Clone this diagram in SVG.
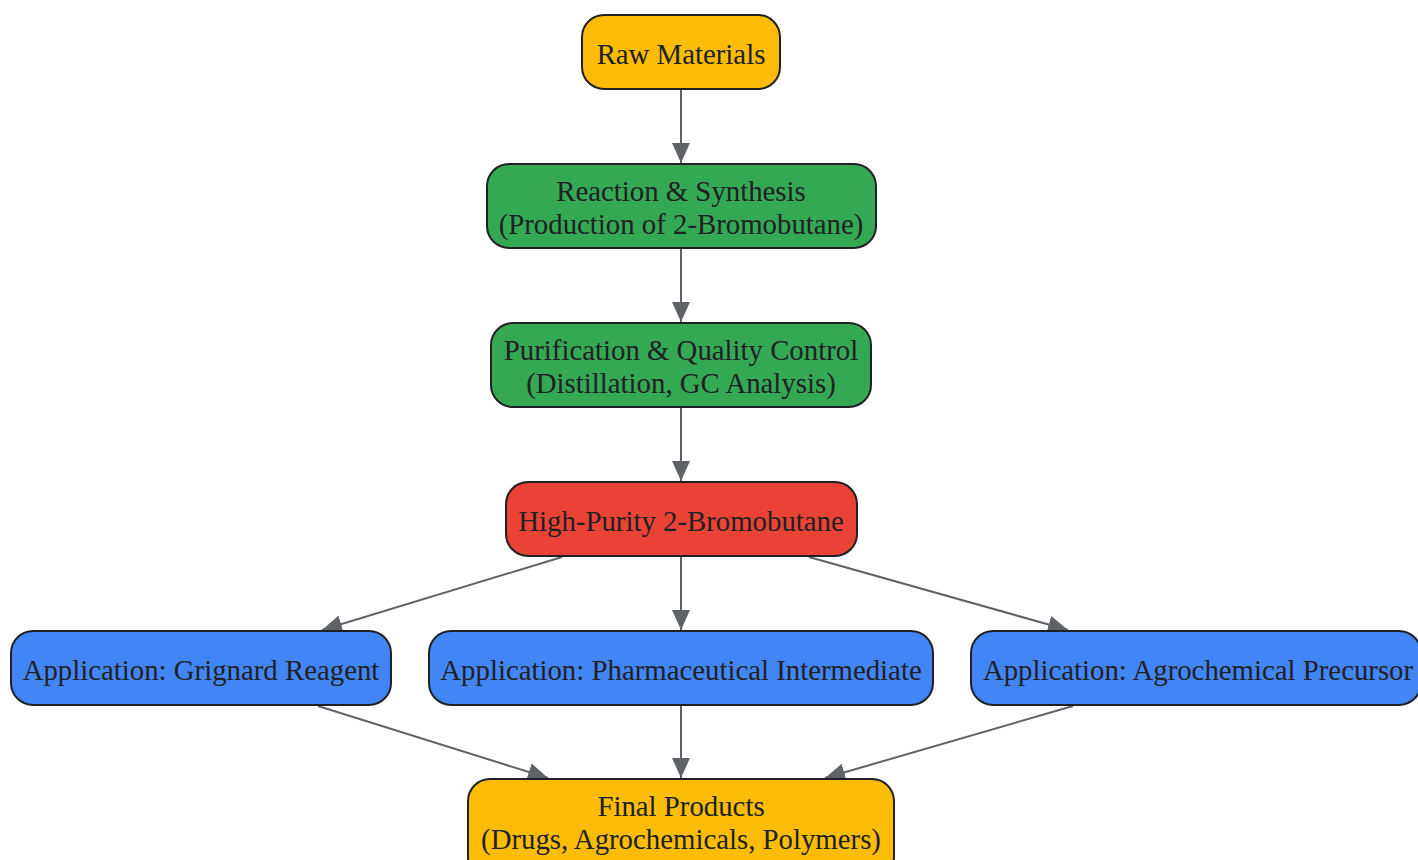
<svg xmlns="http://www.w3.org/2000/svg" width="1418" height="860" viewBox="0 0 1418 860">
<style>
.n rect{stroke:#202124;stroke-width:2}
.n text{font-family:"Liberation Serif",serif;font-size:28.8px;fill:#202124;text-anchor:middle}
.y{fill:#FBBC05}.g{fill:#34A853}.r{fill:#EA4335}.b{fill:#4285F4}
#edges line{stroke:#5f6368;stroke-width:2;marker-end:url(#ah)}
</style>
<defs>
<marker id="ah" markerUnits="userSpaceOnUse" markerWidth="20" markerHeight="18" refX="20" refY="9" orient="auto"><path d="M0,0 L20,9 L0,18 Z" fill="#5f6368"/></marker>
</defs>
<rect width="1418" height="860" fill="#fff"/>
<g id="edges">
<line x1="681" y1="90" x2="681" y2="163"/>
<line x1="681" y1="249" x2="681" y2="322"/>
<line x1="681" y1="408" x2="681" y2="481"/>
<line x1="562" y1="557" x2="322" y2="630"/>
<line x1="681" y1="557" x2="681" y2="630"/>
<line x1="809" y1="557" x2="1068" y2="630"/>
<line x1="318" y1="706" x2="548" y2="778"/>
<line x1="681" y1="706" x2="681" y2="778"/>
<line x1="1073" y1="706" x2="825" y2="778"/>
</g>
<g id="raw" class="n"><rect class="y" x="582" y="15" width="198" height="74" rx="22"/><text x="681" y="64">Raw Materials</text></g>
<g id="reaction" class="n"><rect class="g" x="487" y="164" width="389" height="84" rx="22"/><text x="681" y="201">Reaction &amp; Synthesis</text><text x="681" y="234">(Production of 2-Bromobutane)</text></g>
<g id="purification" class="n"><rect class="g" x="491" y="323" width="380" height="84" rx="22"/><text x="681" y="360">Purification &amp; Quality Control</text><text x="681" y="393">(Distillation, GC Analysis)</text></g>
<g id="highpurity" class="n"><rect class="r" x="506" y="482" width="351" height="74" rx="22"/><text x="681" y="531">High-Purity 2-Bromobutane</text></g>
<g id="grignard" class="n"><rect class="b" x="11" y="631" width="380" height="74" rx="22"/><text x="201" y="680">Application: Grignard Reagent</text></g>
<g id="pharma" class="n"><rect class="b" x="429" y="631" width="504" height="74" rx="22"/><text x="681" y="680">Application: Pharmaceutical Intermediate</text></g>
<g id="agro" class="n"><rect class="b" x="971" y="631" width="450" height="74" rx="22"/><text x="1198" y="680">Application: Agrochemical Precursor</text></g>
<g id="final" class="n"><rect class="y" x="468" y="779" width="426" height="100" rx="22"/><text x="681" y="816">Final Products</text><text x="681" y="849">(Drugs, Agrochemicals, Polymers)</text></g>
</svg>
